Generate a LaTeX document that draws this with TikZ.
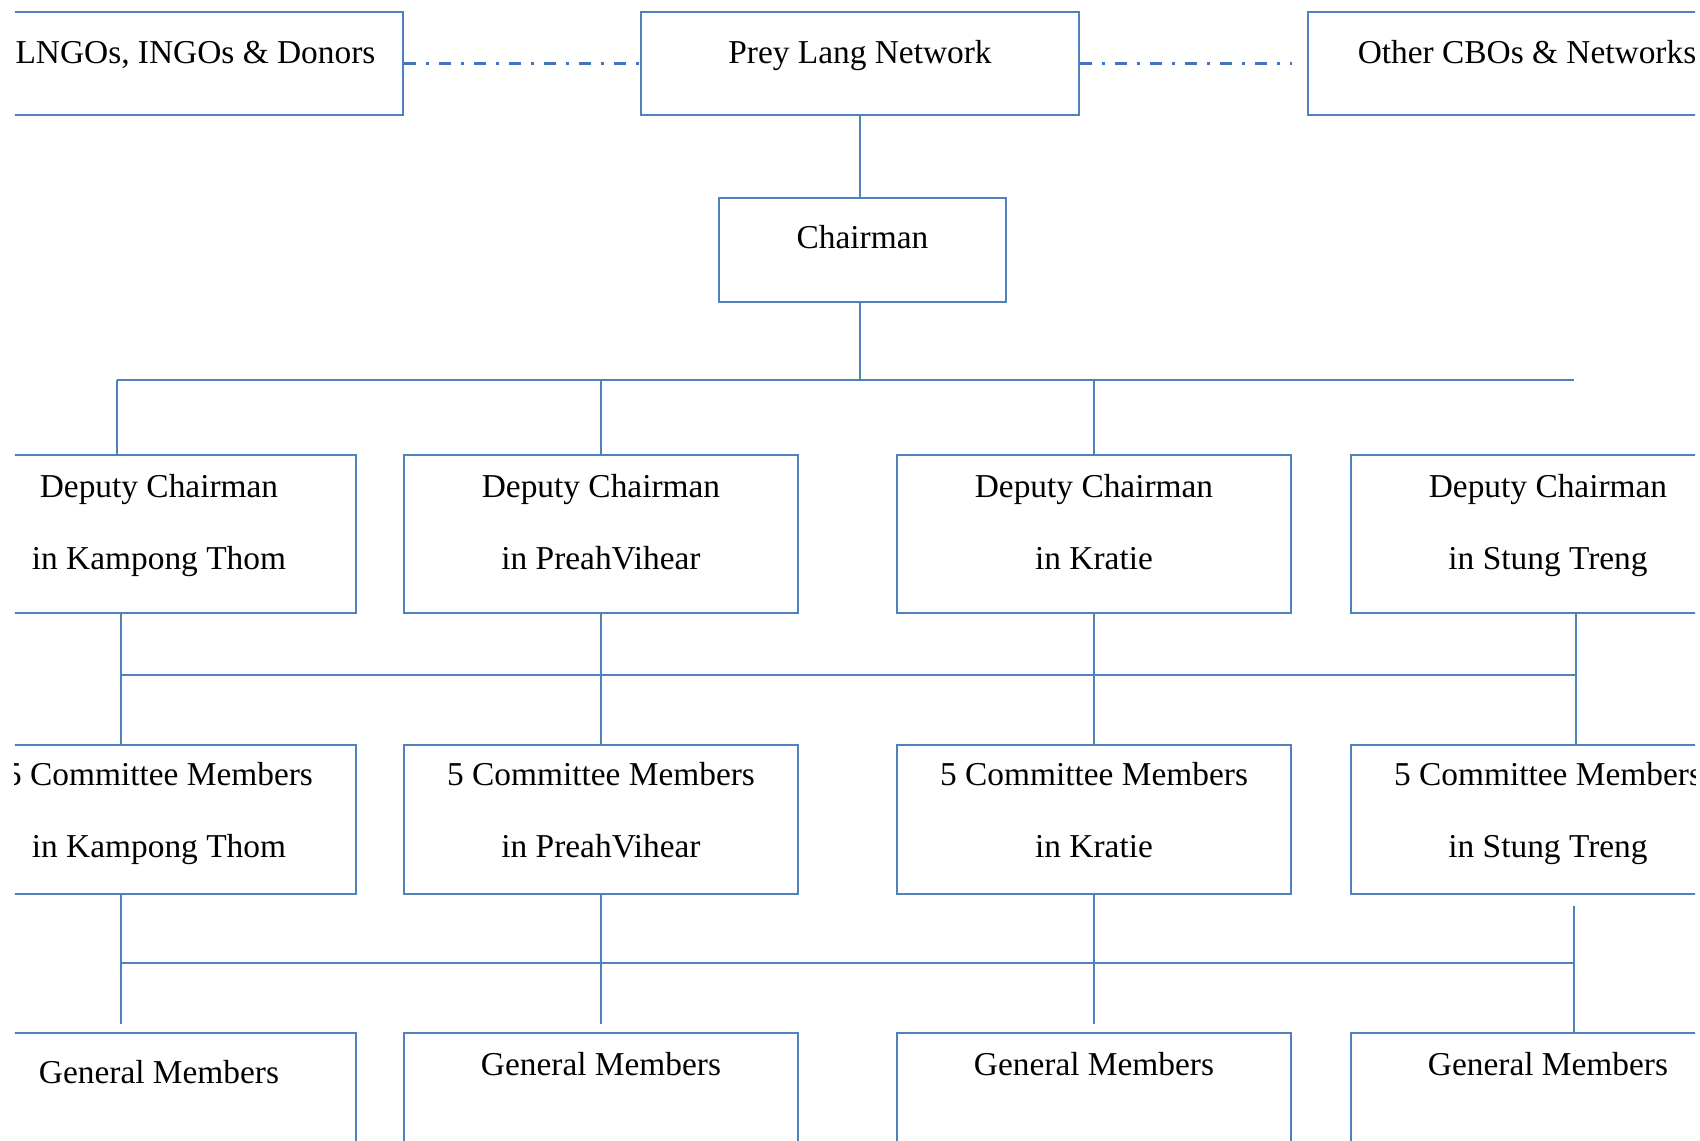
\documentclass[tikz,border=0pt]{standalone}
\usepackage{fontspec}
\setmainfont{Liberation Serif}
\usetikzlibrary{positioning, calc}
\definecolor{PLBlue}{RGB}{79,129,189}
\definecolor{PLDash}{RGB}{68,114,196}
\tikzset{
    orgbox/.style={
        draw=PLBlue, line width=0.6pt, minimum width=3.94cm, minimum height=1.5cm, inner sep=0pt
    },
    topbox/.style={
        orgbox, minimum width=4.38cm, minimum height=1.03cm
    },
    boxtext/.style={
        font=\fontsize{9.5}{20.5}\selectfont, align=center, text=black, inner sep=0pt,
        execute at begin node={\vphantom{hg}}, execute at end node={\vphantom{hg}}
    },
    conn/.style={
        draw=PLBlue, line width=0.45pt
    },
    dashlink/.style={
        draw=PLDash, line width=1pt, dash pattern=on 0.12cm off 0.1cm on 0.03cm off 0.1cm
    }
}

\begin{document}
\begin{tikzpicture}
    \useasboundingbox (0,0) rectangle (17,11.4);
    \clip (0.15,0) rectangle (16.95,11.4);

    % top row
    \node[topbox, label={[boxtext, xshift=0.115cm, yshift=0.08cm]center:LNGOs, INGOs \& Donors}] (ngo) at (1.84,10.765) {};
    \node[topbox, label={[boxtext, yshift=0.08cm]center:Prey Lang Network}] (pln) at (8.60,10.765) {};
    \node[topbox, label={[boxtext, yshift=0.08cm]center:Other CBOs \& Networks}] (cbo) at (15.27,10.765) {};
    \node[orgbox, minimum width=2.87cm, minimum height=1.04cm, label={[boxtext, yshift=0.096cm]center:Chairman}] (chair) at (8.625,8.90) {};

    % one column per province
    \foreach \i/\x/\place/\gs in {1/1.59/Kampong Thom/0.326, 2/6.01/PreahVihear/0.406, 3/10.94/Kratie/0.406, 4/15.48/Stung Treng/0.406} {
        \node[orgbox, minimum height=1.58cm, label={[boxtext, yshift=0.086cm]center:Deputy Chairman\\in \place}] (dep\i) at (\x,6.06) {};
        \node[orgbox, minimum height=1.49cm, label={[boxtext, yshift=0.061cm]center:5 Committee Members\\in \place}] (com\i) at (\x,3.205) {};
        \node[orgbox, label={[boxtext, yshift=\gs cm]center:General Members}] (gen\i) at (\x,0.32) {};
    }

    \draw[dashlink] (ngo) -- (pln);
    \draw[dashlink, shorten >=0.15cm] (pln) -- (cbo);
    \draw[conn] (pln.south) -- (pln.south |- chair.north);

    \coordinate (bus1w) at (1.17,7.60);
    \coordinate (bus1e) at (15.74,7.60);
    \coordinate (bus2w) at (1.21,4.65);
    \coordinate (bus2e) at (15.76,4.65);
    \coordinate (bus3w) at (1.21,1.77);
    \coordinate (bus3e) at (15.74,1.77);

    \draw[conn] (pln.south |- chair.south) -- (pln.south |- bus1w);
    \draw[conn] (bus1w) -- (bus1e);
    \draw[conn] (bus1w) -- (bus1w |- dep1.north);
    \draw[conn] (dep2.north |- bus1w) -- (dep2.north);
    \draw[conn] (dep3.north |- bus1w) -- (dep3.north);

    \draw[conn] (bus2w) -- (bus2e);
    \draw[conn] (bus2w |- dep1.south) -- (bus2w |- com1.north);
    \draw[conn] (dep2.south) -- (com2.north);
    \draw[conn] (dep3.south) -- (com3.north);
    \draw[conn] (bus2e |- dep4.south) -- (bus2e |- com4.north);

    \draw[conn] (bus3w) -- (bus3e);
    \draw[conn, shorten >=0.08cm] (bus3w |- com1.south) -- (bus3w |- gen1.north);
    \draw[conn, shorten >=0.08cm] (com2.south) -- (gen2.north);
    \draw[conn, shorten >=0.08cm] (com3.south) -- (gen3.north);
    \draw[conn, shorten <=0.11cm] (bus3e |- com4.south) -- (bus3e |- gen4.north);
\end{tikzpicture}
\end{document}
